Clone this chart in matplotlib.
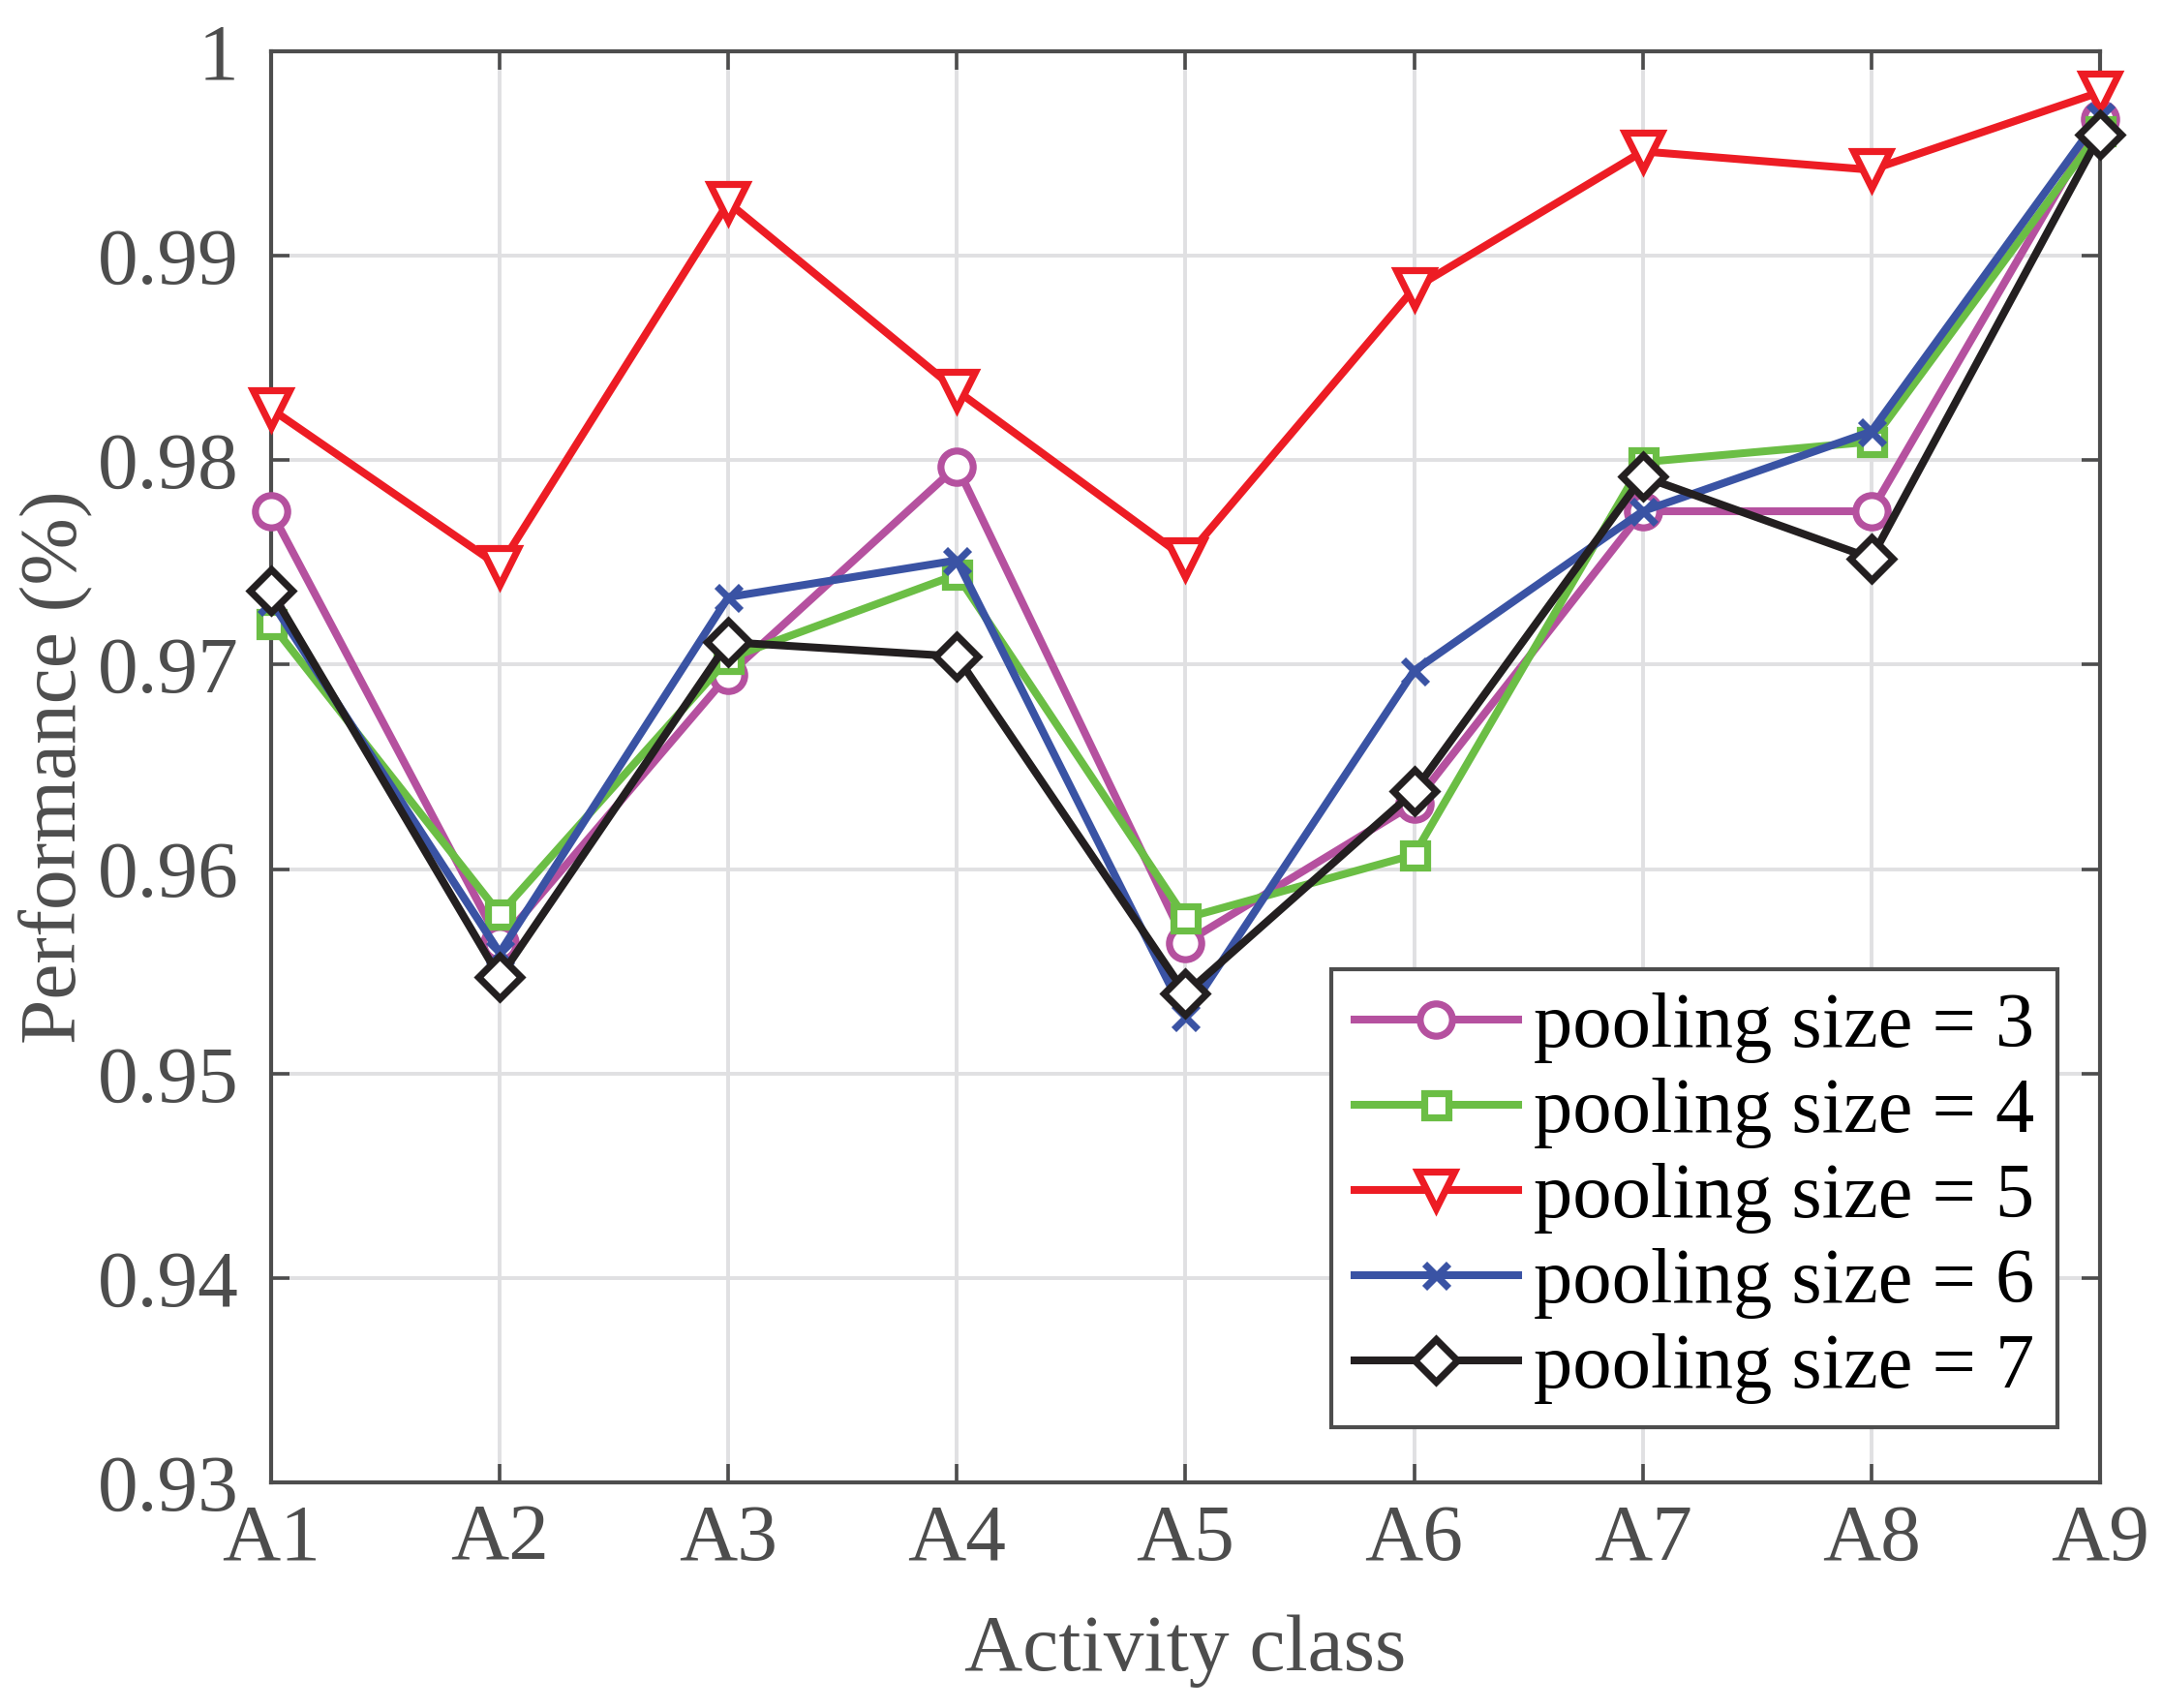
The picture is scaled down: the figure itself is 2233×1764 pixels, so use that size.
import matplotlib
matplotlib.use("Agg")
import matplotlib.pyplot as plt

plt.rcParams['font.family'] = ['Liberation Serif', 'DejaVu Serif']

classes = ['A1', 'A2', 'A3', 'A4', 'A5', 'A6', 'A7', 'A8', 'A9']
pool3 = [0.9775, 0.9564, 0.9695, 0.9797, 0.9564, 0.9632, 0.9775, 0.9775, 0.9967]
pool4 = [0.9720, 0.9578, 0.9703, 0.9744, 0.9576, 0.9607, 0.9799, 0.9809, 0.9961]
pool5 = [0.9825, 0.9748, 0.9926, 0.9834, 0.9752, 0.9884, 0.9951, 0.9942, 0.9980]
pool6 = [0.9731, 0.9559, 0.9733, 0.9751, 0.9528, 0.9697, 0.9775, 0.9814, 0.9968]
pool7 = [0.9736, 0.9547, 0.9711, 0.9704, 0.9539, 0.9638, 0.9792, 0.9752, 0.9959]
yticks = [0.93, 0.94, 0.95, 0.96, 0.97, 0.98, 0.99, 1.0]
ytick_labels = ['0.93', '0.94', '0.95', '0.96', '0.97', '0.98', '0.99', '1']

series = [
    (pool3, 'pooling size = 3', '#B5519F', 'o', 12),
    (pool4, 'pooling size = 4', '#6BBE45', 's', 9),
    (pool5, 'pooling size = 5', '#ED1C24', 'v', 14),
    (pool6, 'pooling size = 6', '#3A53A4', 'x', 9),
    (pool7, 'pooling size = 7', '#231F20', 'D', 11),
]

axis_col = '#4D4D4D'

fig = plt.figure(figsize=(11.165, 8.82), dpi=200)
fig.subplots_adjust(left=0.1254, right=0.9713, top=0.970, bottom=0.1321)
ax = fig.add_subplot(111)

x = list(range(len(classes)))
for vals, label, col, mk, ms in series:
    ax.plot(x, vals, color=col, lw=2.9, marker=mk, markersize=ms,
            markerfacecolor='white', markeredgecolor=col, markeredgewidth=2.6,
            label=label, clip_on=False, zorder=3)

ax.set_xlim(0, len(classes) - 1)
ax.set_ylim(0.93, 1.0)
ax.set_xticks(x)
ax.set_xticklabels(classes)
ax.set_yticks(yticks)
ax.set_yticklabels(ytick_labels)

ax.grid(True, color='#E0E0E2', lw=1.4)
ax.set_axisbelow(True)

for sp in ax.spines.values():
    sp.set_color(axis_col)
    sp.set_linewidth(1.5)
ax.tick_params(axis='both', direction='in', length=7, width=1.3, color=axis_col,
               labelcolor=axis_col, labelsize=30, top=True, right=True)
ax.tick_params(axis='y', pad=12)
ax.tick_params(axis='x', pad=8)

ax.set_xlabel('Activity class', fontsize=30, color=axis_col, labelpad=14)
ax.set_ylabel('Performance (%)', fontsize=30, color=axis_col, labelpad=2)

leg = ax.legend(loc='lower right', bbox_to_anchor=(0.977, 0.0386), borderaxespad=0,
                fontsize=29, fancybox=False, framealpha=1, edgecolor=axis_col,
                handlelength=2.1, handletextpad=0.2, labelspacing=0.18,
                borderpad=0.3)
leg.get_frame().set_linewidth(1.5)

fig.savefig('out.png', dpi=200)
